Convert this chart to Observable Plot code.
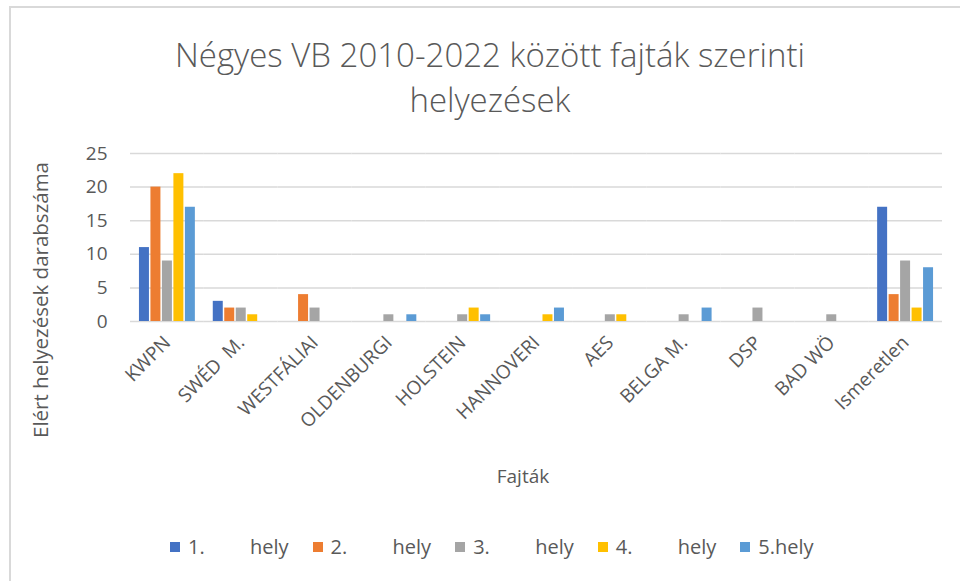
<!DOCTYPE html>
<html><head><meta charset="utf-8">
<script src="https://cdn.jsdelivr.net/npm/d3@7"></script>
<script src="https://cdn.jsdelivr.net/npm/@observablehq/plot@0.6"></script>
<style>
body{margin:0;background:#fff;}
#wrap{position:relative;width:960px;height:581px;overflow:hidden;font-family:"Open Sans",sans-serif;color:#595959;}
#frame{position:absolute;left:9px;top:6px;width:1000px;height:700px;border-left:2px solid #d9d9d9;border-top:2px solid #d9d9d9;}
#title{position:absolute;left:0;width:980px;top:32px;text-align:center;font-size:33px;line-height:45px;font-weight:300;}
#ytitle{position:absolute;left:40px;top:300px;transform:translate(-50%,-50%) rotate(-90deg);white-space:nowrap;font-size:20.5px;}
#xtitle{position:absolute;left:523px;top:476px;transform:translate(-50%,-50%);font-size:19px;}
#chart{position:absolute;left:0;top:130px;}
#chart svg text{font-size:19px;fill:#595959;}
#legend{position:absolute;left:170px;top:533px;display:flex;gap:24px;font-size:20px;white-space:pre;tab-size:62px;-moz-tab-size:62px;}
#legend .it{display:flex;align-items:center;}
#legend .sw{width:10px;height:10px;margin-right:8px;}
</style></head>
<body><div id="wrap">
<div id="frame"></div>
<div id="title">Négyes VB 2010-2022 között fajták szerinti<br>helyezések</div>
<div id="ytitle">Elért helyezések darabszáma</div>
<div id="xtitle">Fajták</div>
<div id="chart"></div>
<div id="legend"></div>
</div>
<script>
const categories = ["KWPN","SWÉD  M.","WESTFÁLIAI","OLDENBURGI","HOLSTEIN","HANNOVERI","AES","BELGA M.","DSP","BAD WÖ","Ismeretlen"];
const series = ["1.\thely","2.\thely","3.\thely","4.\thely","5.hely"];
const colors = ["#4472C4","#ED7D31","#A5A5A5","#FFC000","#5B9BD5"];
const place1 = [11,3,0,0,0,0,0,0,0,0,17];
const place2 = [20,2,4,0,0,0,0,0,0,0,4];
const place3 = [9,2,2,1,1,0,1,1,2,1,9];
const place4 = [22,1,0,0,2,1,1,0,0,0,2];
const place5 = [17,0,0,1,1,2,0,2,0,0,8];
const yTicks = [0,5,10,15,20,25];

const allVals = [place1,place2,place3,place4,place5];
const rows = [];
categories.forEach((c,i)=>series.forEach((s,j)=>rows.push({cat:c,series:s,value:allVals[j][i]})));

const chart = Plot.plot({
  width: 960, height: 330,
  marginTop: 23, marginBottom: 139, marginLeft: 130, marginRight: 18,
  style: {fontFamily: '"Open Sans", sans-serif', fontSize: "19px", color: "#595959", background: "transparent"},
  facet: {data: rows, x: "cat"},
  fx: {domain: categories, padding: 0, round: false, axis: "bottom", label: null, tickRotate: -45, tickSize: 0, tickPadding: 18},
  x: {domain: series, axis: null, round: false, paddingInner: 0.13, paddingOuter: 0.78},
  y: {domain: [0,25], ticks: yTicks, label: null, tickSize: 0, tickPadding: 23, tickFormat: d3.format("d")},
  color: {domain: series, range: colors},
  marks: [
    Plot.ruleY(yTicks, {stroke: "#d9d9d9", strokeWidth: 1.5}),
    Plot.barY(rows, {x: "series", y: "value", fill: "series", filter: d => d.value > 0})
  ]
});
document.getElementById("chart").appendChild(chart);

const lg = document.getElementById("legend");
series.forEach((s,i)=>{
  const it = document.createElement("div"); it.className = "it";
  const sw = document.createElement("div"); sw.className = "sw"; sw.style.background = colors[i];
  const t = document.createElement("span"); t.textContent = s;
  it.appendChild(sw); it.appendChild(t); lg.appendChild(it);
});
</script>
</body></html>
